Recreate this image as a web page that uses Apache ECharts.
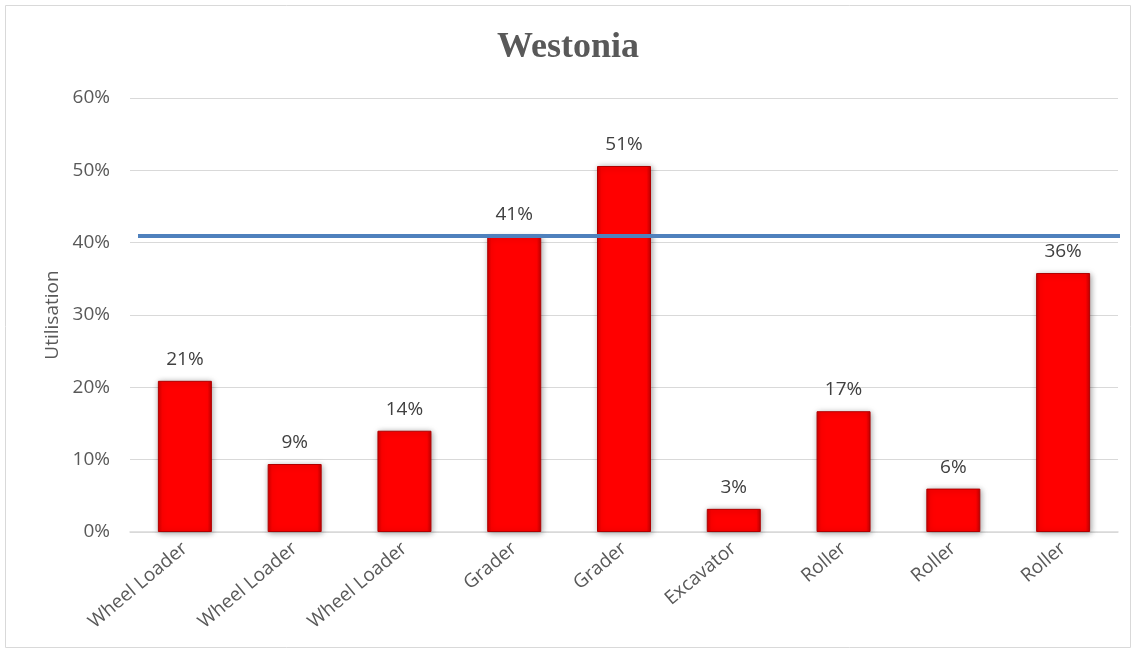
<!DOCTYPE html>
<html><head><meta charset="utf-8">
<script src="https://cdn.jsdelivr.net/npm/echarts@6/dist/echarts.min.js"></script>
<style>html,body{margin:0;padding:0;background:#fff}#c{width:1136px;height:652px}</style>
</head><body><div id="c"></div>
<script>
const categories = ['Wheel Loader','Wheel Loader','Wheel Loader','Grader','Grader','Excavator','Roller','Roller','Roller'];
const utilisation = [0.209, 0.094, 0.140, 0.409, 0.506, 0.032, 0.167, 0.060, 0.358];
const averageLine = 0.41;
const yTicks = [0, 0.6, 0.1];

const chart = echarts.init(document.getElementById('c'));
const font = '"Open Sans", sans-serif';
chart.setOption({
  animation: false,
  graphic: [{type:'rect', shape:{x:5.5,y:5.5,width:1125,height:642}, style:{fill:'none', stroke:'#d9d9d9', lineWidth:1}, silent:true}],
  title: {text:'Westonia', left:'center', top:25, textStyle:{fontFamily:'"Liberation Serif", serif', fontWeight:'bold', fontSize:36, color:'#595959'}},
  grid: {left:130, right:18, top:98, bottom:120, containLabel:false},
  xAxis: {type:'category', data:categories,
    axisLine:{lineStyle:{color:'#d9d9d9', width:1.5}}, axisTick:{show:false},
    axisLabel:{rotate:40, fontFamily:font, fontSize:19, color:'#595959', interval:0, margin:14}},
  yAxis: {type:'value', min:yTicks[0], max:yTicks[1], interval:yTicks[2],
    name:'Utilisation', nameLocation:'middle', nameGap:66, nameRotate:90,
    nameTextStyle:{fontFamily:font, fontSize:19, color:'#595959'},
    axisLine:{show:false}, axisTick:{show:false},
    axisLabel:{formatter:v=>Math.round(v*100)+'%', fontFamily:font, fontSize:19, color:'#595959', margin:20},
    splitLine:{lineStyle:{color:'#d9d9d9', width:1}}},
  series: [{type:'bar', data:utilisation, barWidth:54,
    itemStyle:{color:{type:'linear',x:0,y:0,x2:1,y2:0,colorStops:[{offset:0,color:'#d00000'},{offset:0.08,color:'#ff0000'},{offset:0.92,color:'#ff0000'},{offset:1,color:'#c00000'}]},
      borderColor:'#b00000', borderWidth:1, shadowColor:'rgba(0,0,0,0.35)', shadowBlur:6, shadowOffsetX:1, shadowOffsetY:1},
    label:{show:true, position:'top', distance:12, formatter:p=>Math.round(p.value*100)+'%', fontFamily:font, fontSize:19, color:'#404040'},
    markLine:{silent:true, symbol:'none', label:{show:false}, lineStyle:{color:'#4f81bd', width:4, type:'solid'},
      data:[[{yAxis:averageLine, x:138},{yAxis:averageLine, x:1120}]]}
  }]
});
</script></body></html>
